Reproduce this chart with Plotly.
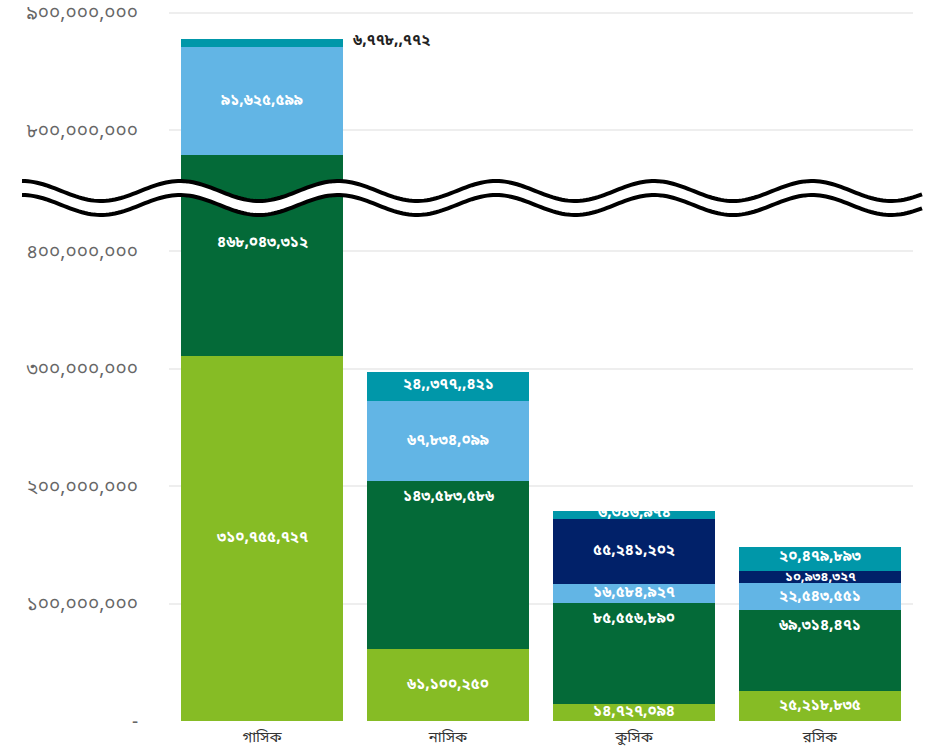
import math
import plotly.graph_objects as go

categories = ["গাসিক", "নাসিক", "কুসিক", "রসিক"]

s_green = [310755727, 61100250, 14727094, 25218835]
s_dkgreen = [468043312, 143583586, 85556890, 69314471]
s_blue = [91625599, 67834099, 16584927, 22543551]
s_navy = [0, 0, 55241202, 10934327]
s_teal = [6778772, 24377421, 6346974, 20479893]

lbl_green = ["৩১০,৭৫৫,৭২৭", "৬১,১০০,২৫০", "১৪,৭২৭,০৯৪", "২৫,২১৮,৮৩৫"]
lbl_dkgreen = ["৪৬৮,০৪৩,৩১২", "১৪৩,৫৮৩,৫৮৬", "৮৫,৫৫৬,৮৯০", "৬৯,৩১৪,৪৭১"]
lbl_blue = ["৯১,৬২৫,৫৯৯", "৬৭,৮৩৪,০৯৯", "১৬,৫৮৪,৯২৭", "২২,৫৪৩,৫৫১"]
lbl_navy = ["", "", "৫৫,২৪১,২০২", "১০,৯৩৪,৩২৭"]
lbl_teal = ["৬,৭৭৮,,৭৭২", "২৪,,৩৭৭,,৪২১", "৬,৩৪৬,৯৭৪", "২০,৪৭৯,৮৯৩"]

low_ticks = [0, 100000000, 200000000, 300000000, 400000000]
low_ticktext = ["-", "১০০,০০০,০০০", "২০০,০০০,০০০", "৩০০,০০০,০০০", "৪০০,০০০,০০০"]
high_ticks = [800000000, 900000000]
high_ticktext = ["৮০০,০০০,০০০", "৯০০,০০০,০০০"]

LOW_RANGE = [0, 446000000]
HIGH_RANGE = [743000000, 906400000]

series = [
    (s_green, lbl_green, "#86BC25", "middle"),
    (s_dkgreen, lbl_dkgreen, "#046A38", "top"),
    (s_blue, lbl_blue, "#62B5E5", "middle"),
    (s_navy, lbl_navy, "#012169", "middle"),
    (s_teal, lbl_teal, "#0097A9", "middle"),
]

FONT = "Noto Sans Bengali, Noto Serif Bengali, Lohit Bengali, FreeSerif, sans-serif"

W, H = 926, 749
ML, MR, MT, MB = 169, 13, 5, 28
PW, PH = W - ML - MR, H - MT - MB
split = 524 / PH
PX_PER_UNIT = 524 / (LOW_RANGE[1] - LOW_RANGE[0])

fig = go.Figure()
for vals, lbls, col, anchor in series:
    for ax in ["y", "y2"]:
        fig.add_trace(go.Bar(x=categories, y=vals, marker=dict(color=col, line=dict(width=0)),
                             yaxis=ax, xaxis="x", showlegend=False, hoverinfo="skip"))

# labels
annotations = []
base = [0] * len(categories)
for si, (vals, lbls, col, anchor) in enumerate(series):
    for j, v in enumerate(vals):
        if v <= 0:
            continue
        bot, top = base[j], base[j] + v
        base[j] = top
        txtcol = "white"
        xshift = 0
        xanchor = "center"
        size = 15 if v * PX_PER_UNIT >= 16 or si == 4 else 13
        if anchor == "top":
            if top > LOW_RANGE[1] and bot < LOW_RANGE[1]:
                yv, yref, ysh = LOW_RANGE[1], "y2", -46
            elif top > LOW_RANGE[1]:
                yv, yref, ysh = top, "y", -16
            else:
                yv, yref, ysh = top, "y2", -16
        else:
            yv = (bot + top) / 2
            yref = "y" if yv > LOW_RANGE[1] else "y2"
            ysh = 2 if si == 4 else 0
        if si == 4 and j == 0:
            txtcol = "#222222"
            xshift = 89
            xanchor = "left"
        annotations.append(dict(x=categories[j], y=yv, xref="x", yref=yref,
                                text="<b>" + lbls[j] + "</b>",
                                showarrow=False, yshift=ysh, xshift=xshift, xanchor=xanchor,
                                font=dict(family=FONT, size=size, color=txtcol)))

# wavy break
def px_to_paper(px, py):
    return (px - ML) / PW, (H - MB - py) / PH

wl = 158.0
crest = 180.0
amp = 10.0
c_up = 191.0
gap = 14.0
xs = [22 + i * 3 for i in range(0, int((922 - 22) / 3) + 1)]

def wave(off):
    pts = []
    for x in xs:
        y = c_up + off - amp * math.cos(2 * math.pi * (x - crest) / wl)
        pts.append(px_to_paper(x, y))
    return pts

up = wave(0)
lo = wave(gap)
band = "M " + " L ".join(f"{a:.5f},{b:.5f}" for a, b in up) + " L " + \
       " L ".join(f"{a:.5f},{b:.5f}" for a, b in reversed(lo)) + " Z"
line_up = "M " + " L ".join(f"{a:.5f},{b:.5f}" for a, b in up)
line_lo = "M " + " L ".join(f"{a:.5f},{b:.5f}" for a, b in lo)

shapes = [
    dict(type="path", path=band, xref="paper", yref="paper", fillcolor="white",
         line=dict(width=0), layer="above"),
    dict(type="path", path=line_up, xref="paper", yref="paper",
         line=dict(color="black", width=4), layer="above"),
    dict(type="path", path=line_lo, xref="paper", yref="paper",
         line=dict(color="black", width=4), layer="above"),
]

fig.update_layout(
    width=W, height=H,
    margin=dict(l=ML, r=MR, t=MT, b=MB),
    paper_bgcolor="white", plot_bgcolor="white",
    barmode="stack", bargap=0.134,
    xaxis=dict(range=[-0.5, 3.5], anchor="y2", showgrid=False, showline=False, ticks="",
               tickfont=dict(family=FONT, size=15, color="#333333"), fixedrange=True,
               ticklabelstandoff=5, automargin=False),
    yaxis=dict(domain=[split, 1], range=HIGH_RANGE, tickvals=high_ticks, ticktext=high_ticktext,
               showgrid=True, gridcolor="#eeeeee", gridwidth=2, zeroline=False, automargin=False,
               tickfont=dict(family=FONT, size=19, color="#666666"), ticklabelstandoff=30),
    yaxis2=dict(domain=[0, split], range=LOW_RANGE, tickvals=low_ticks, ticktext=low_ticktext,
                showgrid=True, gridcolor="#eeeeee", gridwidth=2, zeroline=False, automargin=False,
                tickfont=dict(family=FONT, size=19, color="#666666"), ticklabelstandoff=30),
    annotations=annotations,
    shapes=shapes,
)

fig.write_html("out.html")
